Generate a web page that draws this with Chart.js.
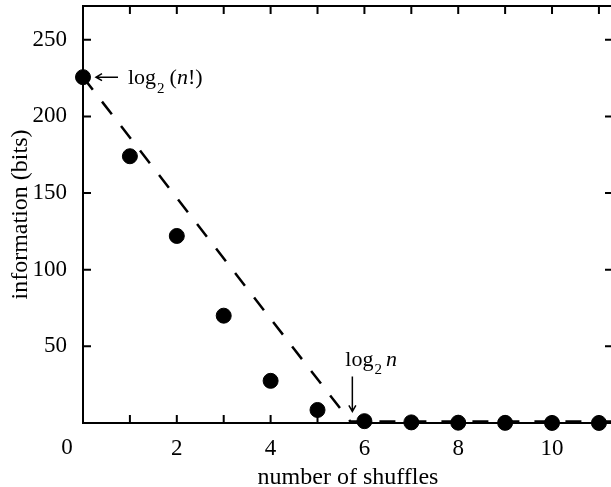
<!DOCTYPE html>
<html>
<head>
<meta charset="utf-8">
<script src="https://cdn.jsdelivr.net/npm/chart.js@4"></script>
<style>
  body { margin: 0; background: #fff; overflow: hidden; }
  #wrap { width: 613px; height: 487px; }
</style>
</head>
<body>
<div id="wrap"><canvas id="graph"></canvas></div>
<script>
// shuffles of a 52 card deck vs remaining information
const shuffles = [0, 1, 2, 3, 4, 5, 6, 7, 8, 9, 10, 11];
const infoBits = [225.6, 174, 122, 70, 27.5, 8.5, 1.2, 0.4, 0.2, 0.1, 0.05, 0.03];
// dashed bound: log2(n!) falling to log2 n
const boundX = [0, 5.7, 11.3];
const boundY = [225.6, 1, 1];

const serif = "'Liberation Serif', 'Times New Roman', serif";

const framePlugin = {
    id: 'frame',
    beforeDatasetsDraw(chart) {
        const { ctx, chartArea: a, scales } = chart;
        ctx.save();
        ctx.strokeStyle = '#000';
        ctx.lineWidth = 2;
        ctx.strokeRect(a.left, a.top, a.right - a.left, a.bottom - a.top);
        ctx.beginPath();
        scales.x.ticks.forEach(t => {
            const px = scales.x.getPixelForValue(t.value);
            ctx.moveTo(px, a.bottom); ctx.lineTo(px, a.bottom - 8);
            ctx.moveTo(px, a.top); ctx.lineTo(px, a.top + 8);
        });
        scales.y.ticks.forEach(t => {
            const py = scales.y.getPixelForValue(t.value);
            ctx.moveTo(a.left, py); ctx.lineTo(a.left + 8, py);
            ctx.moveTo(a.right, py); ctx.lineTo(a.right - 8, py);
        });
        ctx.stroke();
        ctx.restore();
    },
    afterDraw(chart) {
        const { ctx, scales } = chart;
        ctx.save();
        ctx.fillStyle = '#000';
        ctx.strokeStyle = '#000';
        ctx.lineWidth = 1.5;

        // corner zero label
        ctx.font = '23px ' + serif;
        ctx.textAlign = 'center';
        ctx.textBaseline = 'middle';
        ctx.fillText('0', scales.x.getPixelForValue(0) - 16, chart.chartArea.bottom + 25);
        ctx.textAlign = 'left';
        ctx.textBaseline = 'alphabetic';

        // log2(n!) label next to the first point
        const p0x = scales.x.getPixelForValue(boundX[0]);
        const p0y = scales.y.getPixelForValue(boundY[0]);
        ctx.beginPath();
        ctx.moveTo(p0x + 35, p0y); ctx.lineTo(p0x + 13, p0y);
        ctx.moveTo(p0x + 19, p0y - 3.5); ctx.lineTo(p0x + 13, p0y); ctx.lineTo(p0x + 19, p0y + 3.5);
        ctx.stroke();
        let tx = p0x + 45;
        ctx.font = '22px ' + serif;
        ctx.fillText('log', tx, p0y + 7);
        tx += ctx.measureText('log').width;
        ctx.font = '15px ' + serif;
        ctx.fillText('2', tx + 1, p0y + 16);
        tx += ctx.measureText('2').width + 6;
        ctx.font = '22px ' + serif;
        ctx.fillText('(', tx, p0y + 7);
        tx += ctx.measureText('(').width;
        ctx.font = 'italic 22px ' + serif;
        ctx.fillText('n', tx, p0y + 7);
        tx += ctx.measureText('n').width;
        ctx.font = '22px ' + serif;
        ctx.fillText('!)', tx, p0y + 7);

        // log2 n label above the knee
        const kx = scales.x.getPixelForValue(boundX[1]);
        const ky = scales.y.getPixelForValue(boundY[1]);
        ctx.beginPath();
        ctx.moveTo(kx + 2, ky - 45); ctx.lineTo(kx + 2, ky - 10);
        ctx.moveTo(kx - 1.5, ky - 16); ctx.lineTo(kx + 2, ky - 10); ctx.lineTo(kx + 5.5, ky - 16);
        ctx.stroke();
        tx = kx - 5;
        ctx.font = '22px ' + serif;
        ctx.fillText('log', tx, ky - 55);
        tx += ctx.measureText('log').width;
        ctx.font = '15px ' + serif;
        ctx.fillText('2', tx + 1, ky - 47);
        tx += ctx.measureText('2').width + 5;
        ctx.font = 'italic 22px ' + serif;
        ctx.fillText('n', tx, ky - 55);
        ctx.restore();
    }
};

const graph = document.getElementById('graph').getContext('2d');

new Chart(graph, {
    type: 'scatter',
    data: {
        datasets: [{
            label: 'bound',
            type: 'line',
            data: boundX.map((x, i) => ({ x: x, y: boundY[i] })),
            borderColor: '#000',
            borderWidth: 2.5,
            borderDash: [16, 15],
            pointRadius: 0,
            fill: false,
            clip: false
        },
        {
            label: 'information',
            data: shuffles.map((x, i) => ({ x: x, y: infoBits[i] })),
            backgroundColor: '#000',
            borderColor: '#000',
            pointRadius: 7.5,
            clip: false
        }]
    },
    options: {
        responsive: true,
        maintainAspectRatio: false,
        animation: false,
        layout: { autoPadding: false, padding: { top: 6, right: 0, left: 0, bottom: 0 } },
        plugins: { legend: { display: false }, tooltip: { enabled: false } },
        scales: {
            x: {
                type: 'linear',
                min: 0,
                max: 11.3,
                grid: { display: false },
                border: { display: false },
                afterFit: s => { s.height = 64; s.paddingLeft = 0; s.paddingRight = 0; },
                ticks: {
                    stepSize: 1,
                    includeBounds: false,
                    maxRotation: 0,
                    autoSkip: false,
                    padding: 4,
                    color: '#000',
                    font: { family: serif, size: 23 },
                    callback: v => (v !== 0 && v % 2 === 0) ? v : ''
                },
                title: {
                    display: true,
                    text: 'number of shuffles',
                    color: '#000',
                    font: { family: serif, size: 24, lineHeight: 0.8 },
                    padding: { top: 0, bottom: 0 }
                }
            },
            y: {
                min: 0,
                max: 272,
                grid: { display: false },
                border: { display: false },
                afterFit: s => { s.width = 83; s.paddingTop = 0; s.paddingBottom = 0; },
                ticks: {
                    stepSize: 50,
                    includeBounds: false,
                    padding: 8,
                    color: '#000',
                    font: { family: serif, size: 23 },
                    callback: v => v === 0 ? '' : v
                },
                title: {
                    display: true,
                    text: 'information (bits)',
                    color: '#000',
                    font: { family: serif, size: 24 },
                    padding: { top: 6, bottom: 0 }
                }
            }
        }
    },
    plugins: [framePlugin]
});
</script>
</body>
</html>
